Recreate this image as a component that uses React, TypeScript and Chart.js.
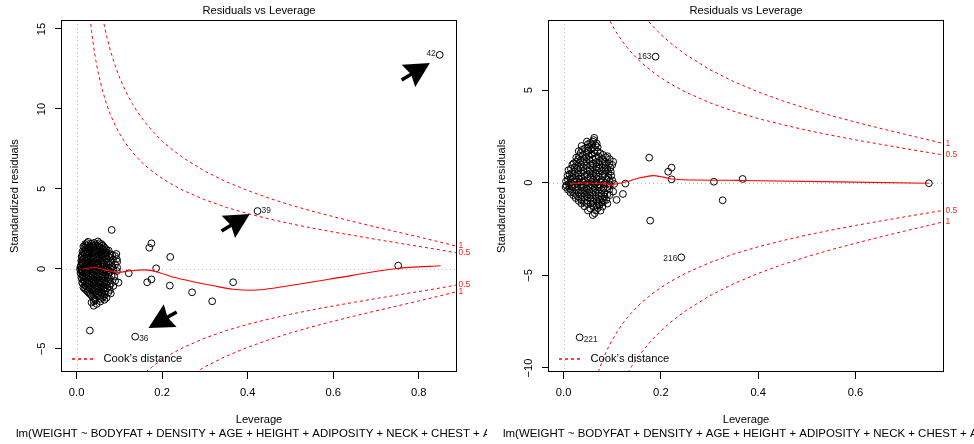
import React, { useEffect, useRef } from "react";
import { Chart, registerables } from "chart.js";

Chart.register(...registerables);

const FONT = '"Liberation Sans", Arial, Helvetica, sans-serif';
const CAPTION =
  "lm(WEIGHT ~ BODYFAT + DENSITY + AGE + HEIGHT + ADIPOSITY + NECK + CHEST + ABDOMEN + HIP + THIGH + KNEE + ANKLE + BICEPS + FOREARM + WRIST)";

// ---------------- Left panel data ----------------
const leftXTicks = [0, 0.2, 0.4, 0.6, 0.8];
const leftXTickLabels = ["0.0", "0.2", "0.4", "0.6", "0.8"];
const leftYTicks = [-5, 0, 5, 10, 15];
const leftYTickLabels = ["\u22125", "0", "5", "10", "15"];
const leftXRange = [-0.0341, 0.8871];
const leftYRange = [-6.44, 15.56];

const leftPoints: number[][] = [
  [0.027, 1.7], [0.05, 1.72],
  [0.02, 1.55], [0.035, 1.58], [0.044, 1.52], [0.058, 1.56],
  [0.016, 1.4], [0.03, 1.43], [0.04, 1.38], [0.052, 1.41], [0.064, 1.36],
  [0.022, 1.25], [0.033, 1.28], [0.047, 1.22], [0.06, 1.26], [0.07, 1.2],
  [0.014, 1.1], [0.026, 1.12], [0.038, 1.08], [0.05, 1.1], [0.056, 1.14], [0.068, 1.06],
  [0.019, 0.95], [0.03, 0.97], [0.043, 0.93], [0.061, 0.96], [0.078, 0.92],
  [0.012, 0.8], [0.024, 0.82], [0.036, 0.78], [0.048, 0.8], [0.057, 0.84], [0.066, 0.76], [0.09, 0.81],
  [0.017, 0.65], [0.029, 0.67], [0.04, 0.63], [0.053, 0.66], [0.07, 0.62], [0.094, 0.62],
  [0.011, 0.5], [0.021, 0.52], [0.033, 0.48], [0.045, 0.5], [0.06, 0.53], [0.075, 0.47],
  [0.015, 0.35], [0.027, 0.37], [0.039, 0.33], [0.05, 0.36], [0.064, 0.32], [0.09, 0.29],
  [0.01, 0.2], [0.022, 0.22], [0.034, 0.18], [0.046, 0.21], [0.057, 0.17], [0.071, 0.2],
  [0.016, 0.05], [0.029, 0.07], [0.041, 0.03], [0.052, 0.06], [0.066, 0.02], [0.078, 0.05],
  [0.008, -0.02], [0.012, -0.1], [0.024, -0.08], [0.036, -0.12], [0.047, -0.09], [0.06, -0.11], [0.074, -0.08], [0.094, -0.13],
  [0.009, -0.25], [0.019, -0.23], [0.031, -0.27], [0.043, -0.24], [0.055, -0.26], [0.068, -0.22],
  [0.014, -0.4], [0.027, -0.38], [0.039, -0.42], [0.05, -0.39], [0.062, -0.41], [0.082, -0.44],
  [0.011, -0.55], [0.022, -0.53], [0.034, -0.57], [0.046, -0.54], [0.058, -0.56], [0.072, -0.52],
  [0.017, -0.7], [0.03, -0.68], [0.042, -0.72], [0.054, -0.69], [0.066, -0.71], [0.09, -0.75],
  [0.013, -0.85], [0.025, -0.83], [0.037, -0.87], [0.05, -0.84], [0.061, -0.86], [0.098, -0.85],
  [0.02, -1.0], [0.032, -0.98], [0.045, -1.02], [0.057, -0.99], [0.07, -1.01], [0.086, -1.06],
  [0.016, -1.15], [0.028, -1.13], [0.04, -1.17], [0.053, -1.14], [0.066, -1.16],
  [0.022, -1.3], [0.035, -1.28], [0.048, -1.32], [0.062, -1.29], [0.078, -1.31],
  [0.027, -1.45], [0.042, -1.43], [0.056, -1.47], [0.074, -1.48],
  [0.033, -1.6], [0.05, -1.62], [0.066, -1.58],
  [0.039, -1.8], [0.06, -1.78], [0.07, -1.8],
  [0.044, -1.95], [0.065, -1.93],
  [0.035, -2.1], [0.047, -2.19],
  [0.04, -2.3],
  // interleaved rows of the dense cluster
  [0.024, 1.62], [0.041, 1.63], [0.053, 1.61],
  [0.023, 1.47], [0.037, 1.48], [0.048, 1.46], [0.061, 1.47],
  [0.018, 1.32], [0.027, 1.33], [0.041, 1.31], [0.054, 1.32], [0.066, 1.3],
  [0.02, 1.17], [0.031, 1.18], [0.044, 1.16], [0.063, 1.17], [0.075, 1.15],
  [0.016, 1.02], [0.025, 1.03], [0.036, 1.01], [0.048, 1.02], [0.065, 1.0], [0.071, 1.03],
  [0.015, 0.87], [0.027, 0.88], [0.04, 0.86], [0.052, 0.87], [0.07, 0.86], [0.083, 0.88],
  [0.013, 0.72], [0.023, 0.73], [0.034, 0.71], [0.046, 0.72], [0.06, 0.7], [0.077, 0.73],
  [0.014, 0.57], [0.026, 0.58], [0.038, 0.56], [0.05, 0.57], [0.064, 0.56], [0.085, 0.58],
  [0.012, 0.42], [0.021, 0.43], [0.032, 0.41], [0.044, 0.42], [0.057, 0.41], [0.07, 0.43], [0.08, 0.4],
  [0.013, 0.27], [0.025, 0.28], [0.037, 0.26], [0.049, 0.27], [0.061, 0.26], [0.076, 0.28],
  [0.009, 0.12], [0.019, 0.13], [0.029, 0.11], [0.04, 0.12], [0.052, 0.11], [0.063, 0.13], [0.084, 0.12],
  [0.011, -0.03], [0.021, -0.02], [0.032, -0.04], [0.044, -0.03], [0.056, -0.04], [0.069, -0.02], [0.086, -0.03],
  [0.014, -0.18], [0.027, -0.17], [0.04, -0.19], [0.052, -0.18], [0.065, -0.19], [0.079, -0.17],
  [0.011, -0.33], [0.022, -0.32], [0.035, -0.34], [0.047, -0.33], [0.058, -0.34], [0.074, -0.32],
  [0.017, -0.48], [0.03, -0.47], [0.042, -0.49], [0.054, -0.48], [0.067, -0.49], [0.088, -0.47],
  [0.013, -0.63], [0.025, -0.62], [0.037, -0.64], [0.049, -0.63], [0.061, -0.64], [0.078, -0.62],
  [0.019, -0.78], [0.031, -0.77], [0.044, -0.79], [0.056, -0.78], [0.071, -0.79],
  [0.015, -0.93], [0.027, -0.92], [0.04, -0.94], [0.052, -0.93], [0.065, -0.94], [0.08, -0.92],
  [0.022, -1.08], [0.035, -1.07], [0.049, -1.09], [0.061, -1.08], [0.077, -1.07],
  [0.019, -1.23], [0.031, -1.22], [0.044, -1.24], [0.058, -1.23], [0.071, -1.22],
  [0.025, -1.38], [0.038, -1.37], [0.052, -1.39], [0.066, -1.38],
  [0.03, -1.53], [0.045, -1.52], [0.059, -1.54], [0.08, -1.53],
  [0.036, -1.7], [0.055, -1.69], [0.064, -1.71],
  [0.042, -1.87], [0.056, -1.86],
  [0.04, -2.02], [0.056, -2.03],
  // sparse points
  [0.082, 2.44], [0.093, 0.94], [0.095, 0.46], [0.095, 0.08],
  [0.175, 1.6], [0.17, 1.33], [0.219, 0.75], [0.186, 0.04], [0.122, -0.27],
  [0.165, -0.83], [0.175, -0.65], [0.218, -1.04], [0.27, -1.46], [0.317, -2.02],
  [0.366, -0.83], [0.031, -3.85], [0.752, 0.21],
];
const leftIdPoints: number[][] = [[0.849, 13.38], [0.423, 3.62], [0.137, -4.23]];
const leftIdLabels = ["42", "39", "36"];
const leftIdAlign = ["right", "left", "left"];
const leftIdDy = [-1, 0, 2.5];

const leftLowess: number[][] = [
  [0.013, 0.0], [0.03, 0.06], [0.045, 0.08], [0.06, 0.0], [0.075, -0.1], [0.095, -0.22],
  [0.115, -0.15], [0.16, -0.06], [0.19, -0.2], [0.225, -0.5], [0.27, -0.78], [0.32, -1.05],
  [0.365, -1.27], [0.43, -1.3], [0.59, -0.64], [0.752, 0.04], [0.851, 0.2],
];

const leftCookLev = [0.02, 0.025, 0.03, 0.035, 0.04, 0.045, 0.05, 0.06, 0.07, 0.08, 0.09, 0.1, 0.11, 0.12, 0.13, 0.14, 0.15, 0.16, 0.18, 0.2, 0.22, 0.25, 0.3, 0.35, 0.4, 0.45, 0.5, 0.55, 0.6, 0.65, 0.7, 0.75, 0.8, 0.85, 0.887];
const leftCookHalf = [19.8, 17.66, 16.08, 14.85, 13.86, 13.03, 12.33, 11.2, 10.31, 9.59, 8.99, 8.49, 8.05, 7.66, 7.32, 7.01, 6.73, 6.48, 6.04, 5.66, 5.33, 4.9, 4.32, 3.85, 3.46, 3.13, 2.83, 2.56, 2.31, 2.08, 1.85, 1.63, 1.41, 1.19, 1.01];
const leftCookOne = [28.0, 24.98, 22.74, 21.0, 19.6, 18.43, 17.44, 15.83, 14.58, 13.56, 12.72, 12.0, 11.38, 10.83, 10.35, 9.91, 9.52, 9.17, 8.54, 8.0, 7.53, 6.93, 6.11, 5.45, 4.9, 4.42, 4.0, 3.62, 3.27, 2.94, 2.62, 2.31, 2.0, 1.68, 1.43];

const leftArrowTips: number[][] = [[0.826, 12.88], [0.405, 3.44], [0.168, -3.69]];
const leftArrowTails: number[][] = [[0.76, 11.81], [0.339, 2.38], [0.234, -2.69]];

// ---------------- Right panel data ----------------
const rightXTicks = [0, 0.2, 0.4, 0.6];
const rightXTickLabels = ["0.0", "0.2", "0.4", "0.6"];
const rightYTicks = [-10, -5, 0, 5];
const rightYTickLabels = ["\u221210", "\u22125", "0", "5"];
const rightXRange = [-0.03, 0.78];
const rightYRange = [-10.22, 8.78];

const rightPoints: number[][] = [
  [0.062, 2.3], [0.063, 2.42],
  [0.055, 2.15], [0.068, 2.12],
  [0.037, 1.98], [0.066, 2.02],
  [0.044, 1.85], [0.06, 1.88],
  [0.031, 1.7], [0.05, 1.72], [0.07, 1.68],
  [0.04, 1.5], [0.057, 1.52], [0.081, 1.5],
  [0.026, 1.35], [0.047, 1.37], [0.066, 1.33], [0.087, 1.36],
  [0.035, 1.2], [0.053, 1.22], [0.074, 1.18], [0.102, 1.13],
  [0.021, 1.05], [0.042, 1.07], [0.06, 1.03], [0.08, 1.06], [0.094, 1.02],
  [0.028, 0.9], [0.048, 0.92], [0.067, 0.88], [0.086, 0.91],
  [0.015, 0.75], [0.034, 0.77], [0.054, 0.73], [0.073, 0.76], [0.09, 0.74],
  [0.022, 0.6], [0.041, 0.62], [0.06, 0.58], [0.079, 0.61], [0.097, 0.59],
  [0.012, 0.45], [0.03, 0.47], [0.048, 0.43], [0.066, 0.46], [0.084, 0.44],
  [0.018, 0.3], [0.036, 0.32], [0.055, 0.28], [0.072, 0.31], [0.092, 0.29],
  [0.009, 0.15], [0.026, 0.17], [0.043, 0.13], [0.061, 0.16], [0.078, 0.14], [0.1, 0.12],
  [0.015, 0.0], [0.033, 0.02], [0.05, -0.02], [0.068, 0.01], [0.086, -0.01],
  [0.006, -0.15], [0.022, -0.13], [0.04, -0.17], [0.058, -0.14], [0.075, -0.16], [0.095, -0.12],
  [0.012, -0.3], [0.029, -0.28], [0.047, -0.32], [0.064, -0.29], [0.082, -0.31],
  [0.018, -0.45], [0.036, -0.43], [0.053, -0.47], [0.071, -0.44], [0.102, -0.48],
  [0.024, -0.6], [0.042, -0.58], [0.06, -0.62], [0.078, -0.59], [0.09, -0.63],
  [0.03, -0.75], [0.048, -0.73], [0.066, -0.77], [0.084, -0.74],
  [0.036, -0.9], [0.055, -0.88], [0.073, -0.92], [0.088, -0.93],
  [0.042, -1.05], [0.061, -1.03], [0.079, -1.07],
  [0.047, -1.1], [0.068, -1.22], [0.074, -1.2],
  [0.055, -1.4], [0.07, -1.38],
  [0.064, -1.65],
  // interleaved rows of the dense cluster
  [0.048, 2.22], [0.06, 2.21],
  [0.05, 2.07], [0.058, 2.06],
  [0.052, 1.92], [0.07, 1.91],
  [0.038, 1.77], [0.056, 1.78], [0.064, 1.76],
  [0.035, 1.6], [0.047, 1.61], [0.064, 1.59], [0.075, 1.6],
  [0.032, 1.43], [0.052, 1.44], [0.072, 1.42], [0.09, 1.43],
  [0.03, 1.27], [0.042, 1.28], [0.06, 1.26], [0.08, 1.27], [0.095, 1.26],
  [0.026, 1.12], [0.047, 1.13], [0.067, 1.11], [0.085, 1.12],
  [0.018, 0.97], [0.036, 0.98], [0.055, 0.96], [0.074, 0.97], [0.1, 0.96],
  [0.022, 0.82], [0.04, 0.83], [0.06, 0.81], [0.08, 0.82], [0.096, 0.81],
  [0.01, 0.67], [0.03, 0.68], [0.05, 0.66], [0.068, 0.67], [0.086, 0.66],
  [0.017, 0.52], [0.036, 0.53], [0.055, 0.51], [0.074, 0.52], [0.092, 0.51],
  [0.008, 0.37], [0.025, 0.38], [0.043, 0.36], [0.062, 0.37], [0.08, 0.36], [0.098, 0.38],
  [0.014, 0.22], [0.032, 0.23], [0.05, 0.21], [0.068, 0.22], [0.088, 0.21],
  [0.005, 0.07], [0.022, 0.08], [0.04, 0.06], [0.058, 0.07], [0.076, 0.06], [0.095, 0.08],
  [0.011, -0.08], [0.028, -0.07], [0.046, -0.09], [0.064, -0.08], [0.082, -0.09], [0.104, -0.07],
  [0.004, -0.23], [0.018, -0.22], [0.036, -0.24], [0.054, -0.23], [0.071, -0.24], [0.09, -0.22],
  [0.009, -0.38], [0.026, -0.37], [0.043, -0.39], [0.061, -0.38], [0.078, -0.39], [0.094, -0.37],
  [0.014, -0.53], [0.031, -0.52], [0.048, -0.54], [0.066, -0.53], [0.084, -0.54],
  [0.02, -0.68], [0.037, -0.67], [0.055, -0.69], [0.072, -0.68], [0.095, -0.67],
  [0.025, -0.83], [0.043, -0.82], [0.061, -0.84], [0.079, -0.83],
  [0.031, -0.98], [0.049, -0.97], [0.068, -0.99], [0.083, -0.98],
  [0.037, -1.13], [0.056, -1.12], [0.072, -1.14], [0.09, -1.13],
  [0.043, -1.28], [0.062, -1.27], [0.08, -1.29],
  [0.05, -1.5], [0.066, -1.49], [0.076, -1.51],
  [0.06, -1.75],
  // sparse points
  [0.127, -0.05], [0.122, -0.61], [0.109, -0.93], [0.176, 1.35], [0.222, 0.81],
  [0.215, 0.59], [0.222, 0.18], [0.309, 0.05], [0.327, -0.95], [0.368, 0.2],
  [0.751, -0.03], [0.178, -2.05],
];
const rightIdPoints: number[][] = [[0.189, 6.8], [0.242, -4.03], [0.033, -8.35]];
const rightIdLabels = ["163", "216", "221"];
const rightIdAlign = ["right", "right", "left"];
const rightIdDy = [0, 1.5, 2.5];

const rightLowess: number[][] = [
  [0.014, -0.05], [0.035, -0.03], [0.054, -0.02], [0.08, -0.05], [0.102, -0.09],
  [0.129, 0.05], [0.155, 0.25], [0.184, 0.38], [0.205, 0.3], [0.222, 0.2],
  [0.274, 0.14], [0.342, 0.13], [0.37, 0.12], [0.751, -0.03],
];

const rightCookLev = [0.02, 0.025, 0.03, 0.035, 0.04, 0.045, 0.05, 0.06, 0.07, 0.08, 0.09, 0.1, 0.11, 0.12, 0.13, 0.14, 0.15, 0.16, 0.18, 0.2, 0.22, 0.25, 0.3, 0.35, 0.4, 0.45, 0.5, 0.55, 0.6, 0.65, 0.7, 0.75, 0.78];
const rightCookHalf = [19.8, 17.66, 16.08, 14.85, 13.86, 13.03, 12.33, 11.2, 10.31, 9.59, 8.99, 8.49, 8.05, 7.66, 7.32, 7.01, 6.73, 6.48, 6.04, 5.66, 5.33, 4.9, 4.32, 3.85, 3.46, 3.13, 2.83, 2.56, 2.31, 2.08, 1.85, 1.63, 1.5];
const rightCookOne = [28.0, 24.98, 22.74, 21.0, 19.6, 18.43, 17.44, 15.83, 14.58, 13.56, 12.72, 12.0, 11.38, 10.83, 10.35, 9.91, 9.52, 9.17, 8.54, 8.0, 7.53, 6.93, 6.11, 5.45, 4.9, 4.42, 4.0, 3.62, 3.27, 2.94, 2.62, 2.31, 2.12];

const cookLevelLabels = ["1", "0.5"];

type PanelCfg = {
  xTicks: number[]; xTickLabels: string[]; yTicks: number[]; yTickLabels: string[];
  xRange: number[]; yRange: number[]; points: number[][]; idPoints: number[][];
  idLabels: string[]; idAlign: string[]; idDy: number[]; lowess: number[][];
  cookLev: number[]; cookHalf: number[]; cookOne: number[];
  arrowTips: number[][]; arrowTails: number[][];
};

const LEFT: PanelCfg = {
  xTicks: leftXTicks, xTickLabels: leftXTickLabels, yTicks: leftYTicks, yTickLabels: leftYTickLabels,
  xRange: leftXRange, yRange: leftYRange, points: leftPoints, idPoints: leftIdPoints,
  idLabels: leftIdLabels, idAlign: leftIdAlign, idDy: leftIdDy, lowess: leftLowess,
  cookLev: leftCookLev, cookHalf: leftCookHalf, cookOne: leftCookOne,
  arrowTips: leftArrowTips, arrowTails: leftArrowTails,
};
const RIGHT: PanelCfg = {
  xTicks: rightXTicks, xTickLabels: rightXTickLabels, yTicks: rightYTicks, yTickLabels: rightYTickLabels,
  xRange: rightXRange, yRange: rightYRange, points: rightPoints, idPoints: rightIdPoints,
  idLabels: rightIdLabels, idAlign: rightIdAlign, idDy: rightIdDy, lowess: rightLowess,
  cookLev: rightCookLev, cookHalf: rightCookHalf, cookOne: rightCookOne,
  arrowTips: [], arrowTails: [],
};

const W = 487;
const H = 444;
const FS = 11.2;
const FS_CAPTION = 11.45;
const FS_SMALL = 8.4;

function drawArrow(ctx: CanvasRenderingContext2D, x1: number, y1: number, x2: number, y2: number) {
  const dx = x2 - x1, dy = y2 - y1;
  const len = Math.hypot(dx, dy);
  const ux = dx / len, uy = dy / len;
  const headLen = 25, halfW = 13;
  const bx = x2 - ux * headLen, by = y2 - uy * headLen;
  ctx.strokeStyle = "#000";
  ctx.fillStyle = "#000";
  ctx.lineWidth = 3.5;
  ctx.setLineDash([]);
  ctx.beginPath();
  ctx.moveTo(x1, y1);
  ctx.lineTo(bx + ux * 4, by + uy * 4);
  ctx.stroke();
  ctx.beginPath();
  ctx.moveTo(x2, y2);
  ctx.lineTo(bx - uy * halfW, by + ux * halfW);
  ctx.lineTo(bx + ux * 3, by + uy * 3);
  ctx.lineTo(bx + uy * halfW, by - ux * halfW);
  ctx.closePath();
  ctx.fill();
}

function makePlugin(p: PanelCfg) {
  return {
    id: "rdecor",
    beforeDatasetsDraw(chart: any) {
      const { ctx, chartArea: a, scales } = chart;
      const xs = scales.x, ys = scales.y;
      ctx.save();
      ctx.beginPath();
      ctx.rect(a.left, a.top, a.right - a.left, a.bottom - a.top);
      ctx.clip();
      ctx.strokeStyle = "#bebebe";
      ctx.lineWidth = 1;
      ctx.setLineDash([1, 3]);
      const y0 = Math.round(ys.getPixelForValue(0)) + 0.5;
      ctx.beginPath();
      ctx.moveTo(a.left, y0);
      ctx.lineTo(a.right, y0);
      ctx.stroke();
      const x0 = Math.round(xs.getPixelForValue(0)) + 0.5;
      ctx.beginPath();
      ctx.moveTo(x0, a.top);
      ctx.lineTo(x0, a.bottom);
      ctx.stroke();
      ctx.restore();
    },
    afterDraw(chart: any) {
      const { ctx, chartArea: a, scales } = chart;
      const xs = scales.x, ys = scales.y;
      ctx.save();
      // box
      ctx.strokeStyle = "#000";
      ctx.lineWidth = 1;
      ctx.setLineDash([]);
      ctx.strokeRect(Math.round(a.left) - 0.5, Math.round(a.top) + 0.5, Math.round(a.right - a.left) + 1, Math.round(a.bottom - a.top) - 1);

      ctx.fillStyle = "#000";
      ctx.font = `${FS}px ${FONT}`;
      const cx = (a.left + a.right) / 2;
      ctx.textAlign = "center";
      ctx.textBaseline = "middle";
      ctx.fillText("Residuals vs Leverage", cx, 10.5);
      ctx.fillText("Leverage", cx, 420);
      p.xTicks.forEach((v, i) => {
        ctx.fillText(p.xTickLabels[i], xs.getPixelForValue(v), 392.5);
      });
      p.yTicks.forEach((v, i) => {
        ctx.save();
        ctx.translate(41.7, ys.getPixelForValue(v));
        ctx.rotate(-Math.PI / 2);
        ctx.fillText(p.yTickLabels[i], 0, 0);
        ctx.restore();
      });
      ctx.save();
      ctx.translate(15, (a.top + a.bottom) / 2);
      ctx.rotate(-Math.PI / 2);
      ctx.fillText("Standardized residuals", 0, 0);
      ctx.restore();
      ctx.textAlign = "left";
      ctx.font = `${FS_CAPTION}px ${FONT}`;
      ctx.fillText(CAPTION, 16, 433.5);

      // Cook's level labels at right margin
      ctx.fillStyle = "#ff2020";
      ctx.font = `${FS_SMALL}px ${FONT}`;
      ctx.textAlign = "left";
      const nEnd = p.cookLev.length - 1;
      const endVals = [p.cookOne[nEnd], p.cookHalf[nEnd]];
      endVals.forEach((v, i) => {
        ctx.fillText(cookLevelLabels[i], a.right + 2.5, ys.getPixelForValue(v));
        ctx.fillText(cookLevelLabels[i], a.right + 2.5, ys.getPixelForValue(-v));
      });

      // legend
      const ly = Math.round(a.bottom - 13);
      ctx.strokeStyle = "#ff0000";
      ctx.lineWidth = 1.3;
      ctx.setLineDash([3, 3]);
      ctx.beginPath();
      ctx.moveTo(a.left + 10, ly);
      ctx.lineTo(a.left + 31, ly);
      ctx.stroke();
      ctx.setLineDash([]);
      ctx.fillStyle = "#000";
      ctx.font = `${FS}px ${FONT}`;
      ctx.textAlign = "left";
      ctx.textBaseline = "middle";
      ctx.fillText("Cook\u2019s distance", a.left + 41.5, ly);

      // id labels
      ctx.font = `${FS_SMALL}px ${FONT}`;
      ctx.fillStyle = "#222";
      p.idPoints.forEach(([h, r], i) => {
        const px = xs.getPixelForValue(h);
        const py = ys.getPixelForValue(r) + p.idDy[i];
        if (p.idAlign[i] === "right") {
          ctx.textAlign = "right";
          ctx.fillText(p.idLabels[i], px - 4, py);
        } else {
          ctx.textAlign = "left";
          ctx.fillText(p.idLabels[i], px + 4, py);
        }
      });

      // arrows
      p.arrowTips.forEach((tip, i) => {
        const tail = p.arrowTails[i];
        drawArrow(
          ctx,
          xs.getPixelForValue(tail[0]), ys.getPixelForValue(tail[1]),
          xs.getPixelForValue(tip[0]), ys.getPixelForValue(tip[1])
        );
      });
      ctx.restore();
    },
  };
}

function buildConfig(p: PanelCfg): any {
  const toXY = (arr: number[][]) => arr.map(([h, r]) => ({ x: h, y: r }));
  const curve = (vals: number[], sign: number) => p.cookLev.map((h, i) => ({ x: h, y: sign * vals[i] }));
  const dashed = (data: any[]) => ({
    data, showLine: true, borderColor: "#ff0000", borderWidth: 1, borderDash: [3, 3],
    pointRadius: 0, tension: 0, fill: false,
  });
  const pointStyle = {
    showLine: false, pointRadius: 3.4, pointBorderWidth: 1, pointBorderColor: "#000",
    pointBackgroundColor: "rgba(0,0,0,0)", pointHoverRadius: 3.4,
  };
  return {
    type: "scatter",
    data: {
      datasets: [
        { data: toXY(p.lowess), showLine: true, borderColor: "#ff0000", borderWidth: 1.1, pointRadius: 0, tension: 0.25, fill: false },
        dashed(curve(p.cookHalf, 1)),
        dashed(curve(p.cookOne, 1)),
        dashed(curve(p.cookHalf, -1)),
        dashed(curve(p.cookOne, -1)),
        { data: toXY(p.idPoints), ...pointStyle },
        { data: toXY(p.points), ...pointStyle },
      ],
    },
    options: {
      responsive: false,
      animation: false,
      devicePixelRatio: 1,
      events: [],
      layout: { padding: { left: 0, right: 31, top: 20, bottom: 0 } },
      plugins: { legend: { display: false }, tooltip: { enabled: false }, title: { display: false } },
      scales: {
        x: {
          type: "linear",
          min: p.xRange[0],
          max: p.xRange[1],
          afterBuildTicks: (s: any) => { s.ticks = p.xTicks.map((v) => ({ value: v })); },
          afterFit: (s: any) => { s.height = 72; },
          ticks: { display: false, autoSkip: false },
          grid: { drawOnChartArea: false, drawTicks: true, tickLength: 7, color: "#000", lineWidth: 1 },
          border: { display: false },
        },
        y: {
          type: "linear",
          min: p.yRange[0],
          max: p.yRange[1],
          afterBuildTicks: (s: any) => { s.ticks = p.yTicks.map((v) => ({ value: v })); },
          afterFit: (s: any) => { s.width = 62; },
          ticks: { display: false, autoSkip: false },
          grid: { drawOnChartArea: false, drawTicks: true, tickLength: 7, color: "#000", lineWidth: 1 },
          border: { display: false },
        },
      },
    },
    plugins: [makePlugin(p)],
  };
}

function RPanel({ cfg }: { cfg: PanelCfg }) {
  const ref = useRef<HTMLCanvasElement>(null);
  useEffect(() => {
    if (!ref.current) return;
    const chart = new Chart(ref.current, buildConfig(cfg));
    return () => chart.destroy();
  }, [cfg]);
  return <canvas ref={ref} width={W} height={H} style={{ display: "block", width: W, height: H }} />;
}

export default function App() {
  return (
    <div style={{ position: "fixed", left: 0, top: 0, width: 974, height: 444, display: "flex", background: "#fff", overflow: "hidden" }}>
      <RPanel cfg={LEFT} />
      <RPanel cfg={RIGHT} />
    </div>
  );
}
